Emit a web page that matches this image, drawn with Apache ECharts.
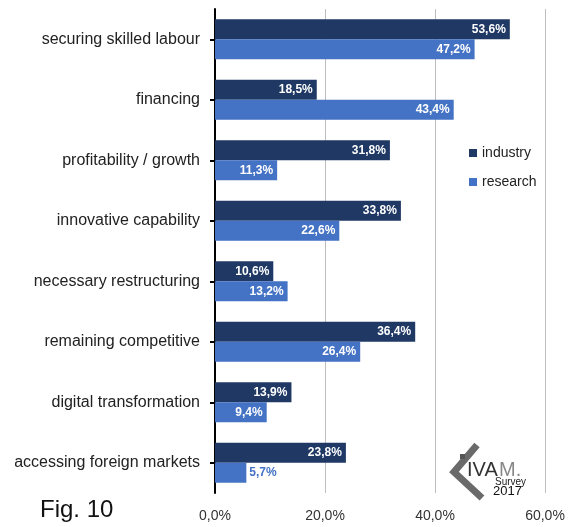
<!DOCTYPE html>
<html>
<head>
<meta charset="utf-8">
<script src="https://cdn.jsdelivr.net/npm/echarts@6/dist/echarts.min.js"></script>
<style>
  html, body { margin: 0; padding: 0; background: #fff; }
  #chart { width: 571px; height: 527px; }
</style>
</head>
<body>
<div id="chart"></div>
<script>
// survey answers, top to bottom
const categories = [
  'securing skilled labour',
  'financing',
  'profitability / growth',
  'innovative capability',
  'necessary restructuring',
  'remaining competitive',
  'digital transformation',
  'accessing foreign markets'
];
const industry = [53.6, 18.5, 31.8, 33.8, 10.6, 36.4, 13.9, 23.8];
const research = [47.2, 43.4, 11.3, 22.6, 13.2, 26.4, 9.4, 5.7];
const xTicks = [0, 20, 40, 60];

const FONT = '"Liberation Sans", Arial, sans-serif';
const DARK = '#1f3864';
const BLUE = '#4472c4';

const fmt = v => v.toFixed(1).replace('.', ',') + '%';

// short bars get the label outside, in the bar colour
function withLabels(values, color) {
  return values.map(v => {
    if (v < 7) {
      return { value: v, label: { position: 'right', color: color, distance: 3 } };
    }
    return v;
  });
}

function barLabel() {
  return {
    show: true,
    position: 'insideRight',
    color: '#fff',
    fontWeight: 'bold',
    fontSize: 12,
    fontFamily: FONT,
    distance: 4,
    formatter: p => fmt(p.value)
  };
}

const chart = echarts.init(document.getElementById('chart'));

chart.setOption({
  animation: false,
  textStyle: { fontFamily: FONT },
  grid: { left: 215, right: 26, top: 9, bottom: 34, containLabel: false },
  legend: {
    orient: 'vertical',
    left: 464,
    top: 141,
    itemWidth: 8,
    itemHeight: 8,
    itemGap: 15,
    icon: 'rect',
    textStyle: { fontSize: 14, color: '#222', fontFamily: FONT },
    data: ['industry', 'research']
  },
  xAxis: {
    type: 'value',
    min: xTicks[0],
    max: xTicks[xTicks.length - 1],
    interval: 20,
    axisLine: { show: false },
    axisTick: { show: false },
    splitLine: { lineStyle: { color: '#bdbdbd', width: 1 } },
    axisLabel: {
      fontSize: 14,
      color: '#333',
      margin: 16,
      fontFamily: FONT,
      formatter: v => fmt(v)
    }
  },
  yAxis: {
    type: 'category',
    inverse: true,
    data: categories,
    axisLine: { lineStyle: { color: '#000', width: 2 } },
    axisTick: { show: true, alignWithLabel: true, length: 5, lineStyle: { color: '#000', width: 2 } },
    axisLabel: { fontSize: 16, color: '#222', margin: 15, fontFamily: FONT }
  },
  series: [
    {
      name: 'industry',
      type: 'bar',
      data: withLabels(industry, DARK),
      itemStyle: { color: DARK },
      barWidth: 20,
      barGap: '0%',
      label: barLabel()
    },
    {
      name: 'research',
      type: 'bar',
      data: withLabels(research, BLUE),
      itemStyle: { color: BLUE },
      barWidth: 20,
      barGap: '0%',
      label: barLabel()
    }
  ],
  graphic: [
    {
      type: 'text',
      left: 40,
      top: 498,
      style: { text: 'Fig. 10', font: '24px ' + FONT, fill: '#111' }
    },
    // IVAM survey logo
    {
      type: 'polyline',
      shape: { points: [[477, 445], [454, 472], [482, 498]] },
      style: { stroke: '#6a6a6a', lineWidth: 7, fill: null, lineJoin: 'miter' }
    },
    {
      type: 'rect',
      shape: { x: 460, y: 454, width: 5, height: 5 },
      style: { fill: '#555' }
    },
    {
      type: 'text',
      left: 467,
      top: 460,
      style: { text: 'IVA', font: '20px ' + FONT, fill: '#333' }
    },
    {
      type: 'text',
      left: 499,
      top: 460,
      style: { text: 'M.', font: '20px ' + FONT, fill: '#888' }
    },
    {
      type: 'text',
      left: 495,
      top: 477,
      style: { text: 'Survey', font: '10px ' + FONT, fill: '#222' }
    },
    {
      type: 'text',
      left: 493,
      top: 485,
      style: { text: '2017', font: '13px ' + FONT, fill: '#111' }
    }
  ]
});
</script>
</body>
</html>
